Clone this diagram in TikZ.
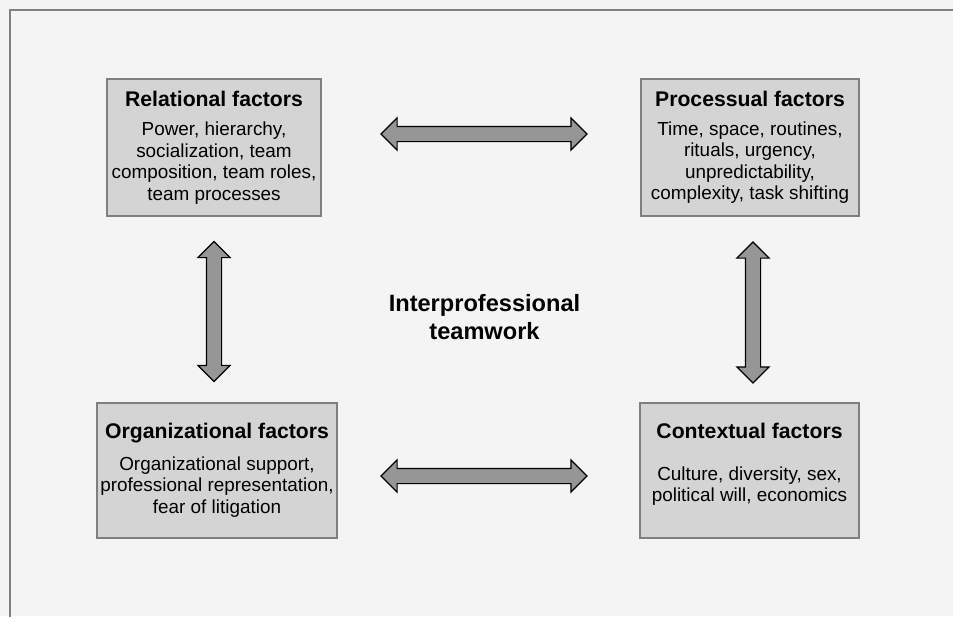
\documentclass[tikz,border=0pt]{standalone}
\usepackage{fontspec}
\setmainfont{Liberation Sans}
\usetikzlibrary{shapes.arrows}

\definecolor{pagebg}{HTML}{F4F4F4}
\definecolor{framegray}{HTML}{808080}
\definecolor{boxfill}{HTML}{D4D4D4}
\definecolor{boxline}{HTML}{7F7F7F}
\definecolor{arrowfill}{HTML}{969696}

\newcommand{\headfont}{\fontsize{21.2}{24}\selectfont\bfseries}
\newcommand{\bodyfont}{\fontsize{18.9}{21.5}\selectfont}

\begin{document}
\begin{tikzpicture}[x=1pt, y=-1pt,
    factor/.style={rectangle, draw=boxline, fill=boxfill, line width=1.5pt, align=center, inner sep=0pt, font=\bodyfont},
    link/.style={double arrow, draw=black, fill=arrowfill, line width=1.2pt, inner xsep=0pt, inner ysep=7pt,
                 double arrow head extend=8.5pt, double arrow tip angle=90}]
    \useasboundingbox (0,0) rectangle (953,616);
    \fill[pagebg] (0,0) rectangle (953,616);
    \draw[framegray, line width=2pt] (10,10) rectangle (975,640);

    % Draw the four factor boxes
    \node[factor, minimum width=214pt, minimum height=137pt] (rel) at (214,147.5)
        {{\headfont Relational factors}\\[8pt] Power, hierarchy,\\ socialization, team\\ composition, team roles,\\ team processes};
    \node[factor, minimum width=218pt, minimum height=137pt] (proc) at (750,147.5)
        {{\headfont Processual factors}\\[7pt] Time, space, routines,\\ rituals, urgency,\\ unpredictability,\\ complexity, task shifting};
    \node[factor, minimum width=240pt, minimum height=135pt] (org) at (217,470.5)
        {{\headfont Organizational factors}\\[10pt] Organizational support,\\ professional representation,\\ fear of litigation};
    \node[factor, minimum width=219pt, minimum height=135pt] (ctx) at (749.5,470.5)
        {{\headfont Contextual factors}\\[20pt] Culture, diversity, sex,\\ political will, economics\\[-5.5pt]\mbox{}};

    % Draw the centre label
    \node[align=center, font=\fontsize{23.6}{28}\selectfont\bfseries] (team) at (484.5,317) {Interprofessional\\ teamwork};

    % Draw the double arrows
    \node[link, minimum height=206pt] (relproc) at (484,134) {};
    \node[link, minimum height=206pt] (orgctx) at (484,476) {};
    \node[link, minimum height=140pt, rotate=90] (relorg) at (214,311.5) {};
    \node[link, minimum height=141pt, rotate=90] (procctx) at (753,312.5) {};
\end{tikzpicture}
\end{document}
